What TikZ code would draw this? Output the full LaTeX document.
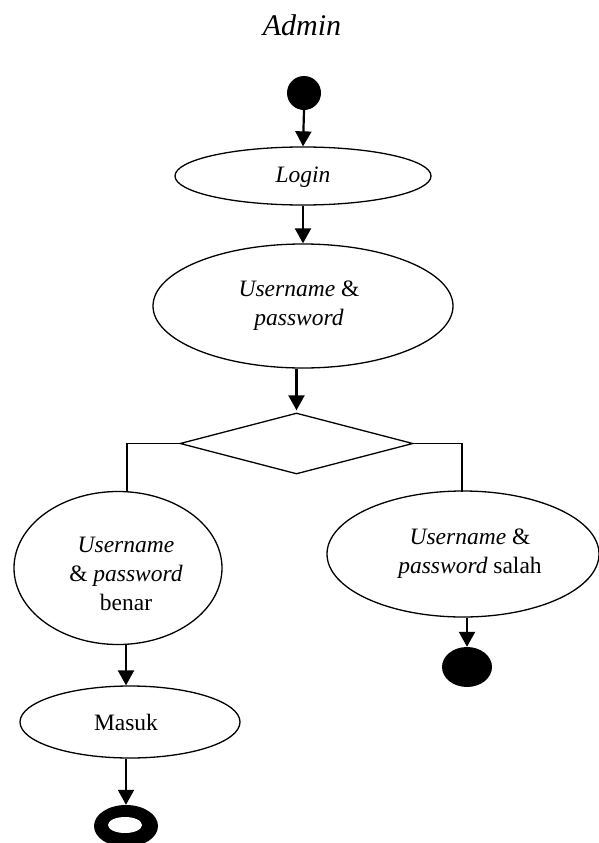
\documentclass[tikz,border=0pt]{standalone}
\usepackage{fontspec}
\setmainfont{Liberation Serif}
\usetikzlibrary{shapes.geometric,arrows.meta,calc}
\begin{document}
\begin{tikzpicture}[x=1pt,y=-1pt,
  elli/.style={draw,ellipse,line width=1.3pt,inner sep=0pt},
  arr/.style={line width=2.2pt,-{Triangle[width=16pt,length=15pt]}},
  txt/.style={font=\fontsize{23.5}{29}\selectfont,align=center,inner sep=0pt},
  conn/.style={line width=1.5pt}]
\useasboundingbox (0,0) rectangle (598,843);
\node[txt,font=\fontsize{30}{36}\selectfont] (title) at (302,25) {\itshape Admin};
\node[circle,fill=black,minimum size=34pt,inner sep=0pt] (start) at (304,93) {};
\node[elli,minimum width=256pt,minimum height=58pt] (login) at (303,176) {};
\node[txt] (logint) at (303,177) {\itshape Login};
\node[elli,minimum width=300pt,minimum height=124pt] (up) at (303,306) {};
\node[txt] (upt) at (299,306) {\itshape Username \upshape\&\\ \itshape password};
\node[draw,diamond,aspect=3.8,minimum width=233pt,minimum height=61pt,inner sep=0pt,line width=1.3pt] (dia) at (296.5,443.5) {};
\node[elli,minimum width=208pt,minimum height=153pt] (L) at (118,568) {};
\node[txt] (Lt) at (126,574) {\itshape Username\\ \upshape\& \itshape password\\ \upshape benar};
\node[elli,minimum width=272pt,minimum height=126pt] (R) at (463,554) {};
\node[txt] (Rt) at (470,554) {\itshape Username \upshape\&\\ \itshape password \upshape salah};
\node[ellipse,fill=black,minimum width=50pt,minimum height=40pt,inner sep=0pt] (endR) at (467,667) {};
\node[elli,minimum width=220pt,minimum height=72pt] (M) at (130,722) {};
\node[txt] (Mt) at (126,722) {Masuk};
\node[ellipse,fill=black,minimum width=64pt,minimum height=42pt,inner sep=0pt] (endL) at (126,826) {};
\node[ellipse,fill=white,minimum width=34pt,minimum height=16pt,inner sep=0pt] (endLin) at (125,825) {};
\coordinate (lj) at (127,492);
\coordinate (rj) at (462,492);
\draw[arr] (start.south) -- (login.north);
\draw[arr] (login.south) -- (up.north);
\draw[arr,shorten >=2pt] (up.south -| dia.north) -- (dia.north);
\draw[conn] (dia.west) -| (lj);
\draw[conn] (dia.east) -| (rj);
\draw[arr] (L.south -| endL.north) -- (endL.north |- M.north);
\draw[arr] (M.south -| endL.north) -- (endL.north);
\draw[arr] (R.south -| endR.north) -- (endR.north);
\end{tikzpicture}
\end{document}
